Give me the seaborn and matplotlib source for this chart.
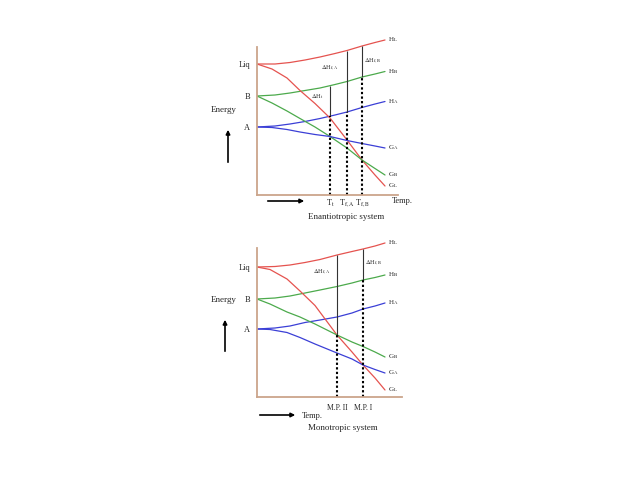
import numpy as np
import matplotlib
matplotlib.use('Agg')
import matplotlib.pyplot as plt
import seaborn as sns

sns.set_style('white')
plt.rcParams['font.family'] = ['Liberation Serif', 'DejaVu Serif']
plt.rcParams['mathtext.fontset'] = 'stix'

# ---- data (temperature / energy, arbitrary units) ----
# enantiotropic system (top)
t_h1 = [0, 18, 33, 48, 63, 78, 90, 105, 118, 128]
hl1 = [131, 131, 132.5, 135, 138, 141.5, 144.5, 149, 152.5, 155]
hb1 = [99, 100, 102, 104.5, 107, 110.5, 113.5, 118, 121, 123.5]
ha1 = [68, 69, 71, 73.5, 76.5, 80, 83, 87.5, 91, 93.5]
t_g1 = [0, 15, 30, 43, 58, 73, 90, 105, 118, 128]
gl1 = [131, 126, 117, 104.5, 91.5, 77, 55, 35, 20, 9]
gb1 = [99, 92, 84, 76.5, 68, 58.5, 47, 35, 26.5, 20]
ga1 = [68, 67.5, 65.5, 63, 60.5, 58.5, 54.5, 51.5, 49, 47]
temps1 = [73, 90, 105]
temp_labels1 = [r'T$_\mathrm{t}$', r'T$_\mathrm{f,A}$', r'T$_\mathrm{f,B}$']

# monotropic system (bottom)
t_h2 = [0, 18, 33, 48, 63, 80, 95, 106, 118, 128]
hl2 = [130, 130.5, 132, 134.5, 137.5, 142, 145.5, 148, 151, 154]
hb2 = [98, 99, 101, 104, 107, 110.5, 114, 117, 119.5, 122]
ha2 = [68, 69, 71, 74.5, 77, 80, 84, 88, 91, 94]
t_g2 = [0, 13, 30, 43, 58, 80, 95, 106, 118, 128]
gl2 = [130, 127.5, 118, 106, 91.5, 62, 45, 32, 19, 7]
gb2 = [98, 93, 85, 80, 73, 62, 55, 50.5, 45, 40]
ga2 = [68, 67.5, 64.5, 59.5, 53, 44, 38, 32, 27.5, 24]
temps2 = [80, 106]
temp_labels2 = ['M.P. II', 'M.P. I']

red, green, blue = '#e5534f', '#4caa4c', '#3b3fd6'
spine_col = '#cba58b'

fig = plt.figure(figsize=(6.38, 4.79), dpi=100)
ax1 = fig.add_axes([257 / 638, (479 - 195) / 479, 150 / 638, 160 / 479])
ax2 = fig.add_axes([257 / 638, (479 - 397) / 479, 150 / 638, 160 / 479])


def panel(ax, th, hl, hb, ha, tg, gl, gb, ga, glabels, ymax, xmax):
    curves = [(th, hl, red, r'H$_\mathrm{L}$'), (th, hb, green, r'H$_\mathrm{B}$'),
              (th, ha, blue, r'H$_\mathrm{A}$'), (tg, gl, red, glabels[0]),
              (tg, gb, green, glabels[1]), (tg, ga, blue, glabels[2])]
    for t, e, c, lab in curves:
        sns.lineplot(x=t, y=e, color=c, lw=0.9, ax=ax, sort=False)
        ax.text(t[-1] + 3, e[-1], lab, fontsize=5, ha='left', va='center')
    ax.set_xlim(0, 150)
    ax.set_ylim(0, 160)
    sns.despine(ax=ax)
    ax.spines['left'].set_bounds(0, ymax)
    ax.spines['bottom'].set_bounds(0, xmax)
    for s in ['left', 'bottom']:
        ax.spines[s].set_color(spine_col)
        ax.spines[s].set_linewidth(1.3)
    ax.set_yticks([hl[0], hb[0], ha[0]], ['Liq', 'B', 'A'])
    ax.tick_params(axis='y', length=0, pad=5, labelsize=6)
    ax.tick_params(axis='x', length=0, pad=2, labelsize=6)
    ax.patch.set_alpha(0)


def vline(ax, T, t_top, e_top, t_bot, e_bot):
    top = np.interp(T, t_top, e_top)
    bot = np.interp(T, t_bot, e_bot)
    ax.vlines(T, bot, top, color='#333333', lw=0.8)
    ax.vlines(T, 0, bot, color='black', lw=1.5, linestyles=(0, (1.1, 1.1)))


# ---- top: enantiotropic ----
panel(ax1, t_h1, hl1, hb1, ha1, t_g1, gl1, gb1, ga1,
      [r'G$_\mathrm{L}$', r'G$_\mathrm{B}$', r'G$_\mathrm{A}$'], 148, 141)
vline(ax1, temps1[0], t_h1, hb1, t_h1, ha1)
vline(ax1, temps1[1], t_h1, hl1, t_h1, ha1)
vline(ax1, temps1[2], t_h1, hl1, t_h1, hb1)
ax1.set_xticks(temps1, temp_labels1)
ax1.text(60, 98, r'$\Delta$H$_\mathrm{t}$', fontsize=4.5, ha='center', va='center')
ax1.text(73, 127, r'$\Delta$H$_\mathrm{f,A}$', fontsize=4.5, ha='center', va='center')
ax1.text(115, 134, r'$\Delta$H$_\mathrm{f,B}$', fontsize=4.5, ha='center', va='center')
ax1.text(145, -6, 'Temp.', fontsize=6, ha='center', va='center')
ax1.text(89, -22, 'Enantiotropic system', fontsize=6.5, ha='center', va='center')
ax1.text(-33, 85, 'Energy', fontsize=6.5, ha='center', va='center')
ax1.annotate('', xy=(50, -6), xytext=(8, -6), annotation_clip=False,
             arrowprops=dict(arrowstyle='-|>', color='black', lw=1.2, mutation_scale=6))
ax1.annotate('', xy=(-29, 68), xytext=(-29, 30), annotation_clip=False,
             arrowprops=dict(arrowstyle='-|>', color='black', lw=1.2, mutation_scale=6))

# ---- bottom: monotropic ----
panel(ax2, t_h2, hl2, hb2, ha2, t_g2, gl2, gb2, ga2,
      [r'G$_\mathrm{L}$', r'G$_\mathrm{B}$', r'G$_\mathrm{A}$'], 149, 145)
vline(ax2, temps2[0], t_h2, hl2, t_g2, gl2)
vline(ax2, temps2[1], t_h2, hl2, t_h2, hb2)
ax2.set_xticks(temps2, temp_labels2)
ax2.tick_params(axis='x', pad=5, labelsize=5.5)
ax2.text(65, 125, r'$\Delta$H$_\mathrm{f,A}$', fontsize=4.5, ha='center', va='center')
ax2.text(116, 134, r'$\Delta$H$_\mathrm{f,B}$', fontsize=4.5, ha='center', va='center')
ax2.text(45, -19, 'Temp.', fontsize=6, ha='left', va='center')
ax2.text(86, -31, 'Monotropic system', fontsize=6.5, ha='center', va='center')
ax2.text(-33, 97, 'Energy', fontsize=6.5, ha='center', va='center')
ax2.annotate('', xy=(41, -18), xytext=(0, -18), annotation_clip=False,
             arrowprops=dict(arrowstyle='-|>', color='black', lw=1.2, mutation_scale=6))
ax2.annotate('', xy=(-32, 80), xytext=(-32, 43), annotation_clip=False,
             arrowprops=dict(arrowstyle='-|>', color='black', lw=1.2, mutation_scale=6))

fig.savefig('out.png', dpi=100)
